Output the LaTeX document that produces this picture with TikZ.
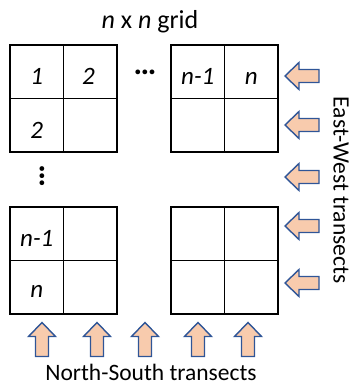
\documentclass[tikz,border=0pt]{standalone}
\usepackage{fontspec}
\setmainfont{Carlito}
\usepackage{xcolor}
\usepackage{tikz}
\definecolor{tpeach}{HTML}{F8CBAD}
\definecolor{tblue}{HTML}{2F5597}
\tikzset{
  cellline/.style={black, line width=1.7pt},
  tarrow/.style={fill=tpeach, draw=tblue, line width=1.4pt, line join=miter},
  transect/.pic={\filldraw[tarrow] (-17,0) -- (-3,13.5) -- (-3,6.5) -- (17,6.5)
    -- (17,-6.5) -- (-3,-6.5) -- (-3,-13.5) -- cycle;},
  lbl/.style={font=\fontsize{23.5}{28}\selectfont, inner sep=0pt},
  num/.style={font=\fontsize{25}{30}\selectfont\itshape, inner sep=0pt, anchor=base}
}

\begin{document}
\begin{tikzpicture}[x=1pt, y=1pt]
\useasboundingbox (0,0) rectangle (351,-385);
% four 2x2 corner blocks
\foreach \bx in {10,171}
  \foreach \by in {45,207} {
    \draw[cellline] (\bx,-\by) rectangle +(107,-107);
    \draw[cellline] (\bx+53.5,-\by) -- +(0,-107);
    \draw[cellline] (\bx,-\by-53.5) -- +(107,0);
  }
\node[lbl, font=\fontsize{26}{30}\selectfont] (title) at (150,-22) {\textit{n} x \textit{n} grid};
\node[num] (c11) at (36.75,-85) {1};
\node[num] (c12) at (88.5,-85) {2};
\node[num] (c1m) at (197.75,-85) {n-1};
\node[num] (c1n) at (251.25,-85) {n};
\node[num] (c21) at (36.75,-139) {2};
\node[num] (cm1) at (36.75,-246) {n-1};
\node[num] (cn1) at (36.75,-297) {n};
\node[lbl, font=\fontsize{32}{36}\selectfont\bfseries] (hdots) at (145,-72) {…};
\node[lbl, font=\fontsize{32}{36}\selectfont\bfseries, rotate=90] (vdots) at (42,-176) {…};
% East-West transects
\foreach \ay [count=\i] in {76,125,177,226,283}
  \pic (ew\i) at (302,-\ay) {transect};
\node[lbl, rotate=-90] (ewlabel) at (341,-190) {East-West transects};
% North-South transects
\foreach \ax [count=\i] in {42,97,145,198,248}
  \pic[rotate=-90] (ns\i) at (\ax,-339.5) {transect};
\node[lbl] (nslabel) at (151,-372) {North-South transects};
\end{tikzpicture}
\end{document}
